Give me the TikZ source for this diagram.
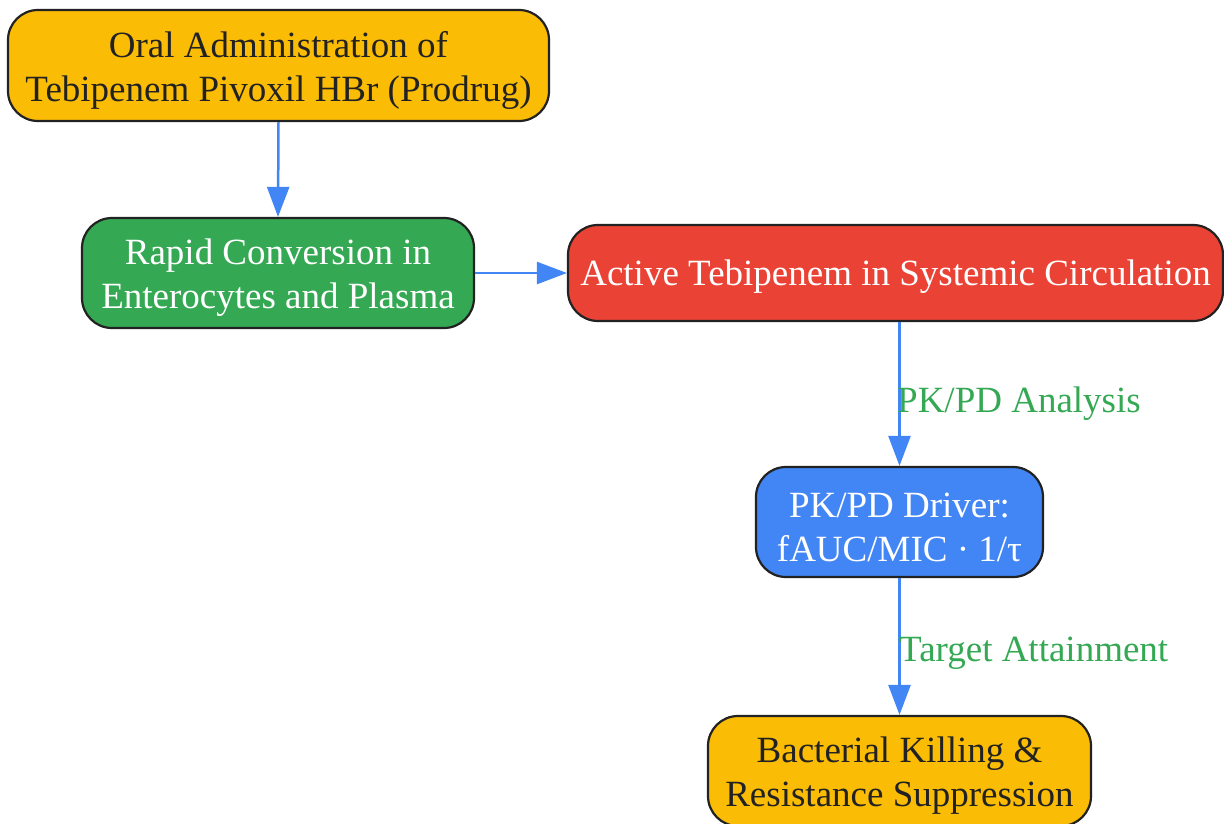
\documentclass[tikz,border=0pt]{standalone}
\usepackage{fontspec}
\setmainfont{Liberation Serif}
\usetikzlibrary{arrows.meta}
\definecolor{gorange}{HTML}{FBBC05}
\definecolor{ggreen}{HTML}{34A853}
\definecolor{gred}{HTML}{EA4335}
\definecolor{gblue}{HTML}{4285F4}
\definecolor{dtext}{HTML}{222222}
\tikzset{
  box/.style={draw=dtext, line width=2.2pt, rounded corners=30pt, inner sep=0pt},
  txt/.style={align=center, inner sep=0pt, font=\fontsize{37}{44}\selectfont},
  conn/.style={draw=gblue, line width=2.5pt, -{Triangle[length=30pt,width=22pt]}},
  lbl/.style={text=ggreen, font=\fontsize{37}{44}\selectfont, anchor=west, inner sep=0pt}
}
\begin{document}
\begin{tikzpicture}[x=1pt,y=-1pt]
\useasboundingbox (0,0) rectangle (1224,823);
\node[box, fill=gorange, minimum width=541pt, minimum height=111pt] (n1) at (278.5,65.5) {};
\node[txt, text=dtext] (t1) at ([yshift=-5pt]n1.center)
  {Oral Administration of\\Tebipenem Pivoxil HBr (Prodrug)};
\node[box, fill=ggreen, minimum width=392pt, minimum height=110pt] (n2) at (278,273) {};
\node[txt, text=white] (t2) at ([yshift=-5pt]n2.center)
  {Rapid Conversion in\\Enterocytes and Plasma};
\node[box, fill=gred, minimum width=655pt, minimum height=96pt] (n3) at (895.5,273) {};
\node[txt, text=white] (t3) at ([yshift=-4pt]n3.center)
  {Active Tebipenem in Systemic Circulation};
\node[box, fill=gblue, minimum width=287pt, minimum height=110pt] (n4) at (899.5,522) {};
\node[txt, text=white] (t4) at ([yshift=-5pt]n4.center)
  {PK/PD Driver:\\fAUC/MIC · 1/τ};
\node[box, fill=gorange, minimum width=383pt, minimum height=110pt] (n5) at (899.5,771) {};
\node[txt, text=dtext] (t5) at ([yshift=-5pt]n5.center)
  {Bacterial Killing \&\\Resistance Suppression};
\draw[conn] (n1.south) -- (n2.north);
\draw[conn] (n2.east) -- (n3.west);
\draw[conn] (n3.south -| n4.north) -- (n4.north);
\draw[conn] (n4.south) -- (n5.north);
\node[lbl] (l1) at (897,404) {PK/PD Analysis};
\node[lbl] (l2) at (899,653) {Target Attainment};
\end{tikzpicture}
\end{document}
